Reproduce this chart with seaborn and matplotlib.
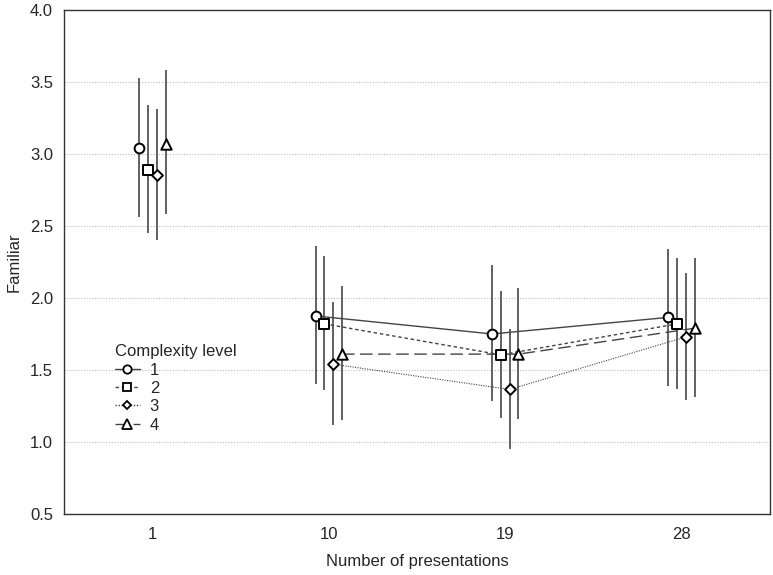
import numpy as np
import pandas as pd
import matplotlib
matplotlib.use("Agg")
import matplotlib.pyplot as plt
import seaborn as sns
from matplotlib.lines import Line2D


PRESENTATIONS = ["1", "10", "19", "28"]
LEVELS = ["1", "2", "3", "4"]

# mean familiarity per complexity level, one value per presentation count
MEANS = {
    "1": [3.04, 1.875, 1.75, 1.865],
    "2": [2.89, 1.82, 1.605, 1.82],
    "3": [2.85, 1.54, 1.365, 1.73],
    "4": [3.07, 1.61, 1.61, 1.79],
}
LOWER = {
    "1": [2.565, 1.40, 1.285, 1.39],
    "2": [2.45, 1.36, 1.165, 1.37],
    "3": [2.40, 1.12, 0.95, 1.29],
    "4": [2.58, 1.15, 1.16, 1.31],
}
UPPER = {
    "1": [3.525, 2.36, 2.23, 2.34],
    "2": [3.34, 2.29, 2.05, 2.275],
    "3": [3.31, 1.97, 1.785, 2.17],
    "4": [3.58, 2.08, 2.07, 2.275],
}

OFFSETS = {"1": -0.075, "2": -0.025, "3": 0.025, "4": 0.075}
MARKERS = {"1": "o", "2": "s", "3": "D", "4": "^"}
MSIZE = {"1": 7, "2": 7, "3": 5.5, "4": 7.5}
DASHES = {"1": "", "2": (2.5, 2.0), "3": (1.0, 1.2), "4": (9, 4)}
LWIDTH = {"1": 1.0, "2": 1.0, "3": 0.8, "4": 1.0}


def build_frame():
    rows = []
    for lvl in LEVELS:
        for i, pres in enumerate(PRESENTATIONS):
            rows.append({
                "pos": i + OFFSETS[lvl],
                "presentations": pres,
                "level": lvl,
                "mean": MEANS[lvl][i],
                "lo": LOWER[lvl][i],
                "hi": UPPER[lvl][i],
            })
    return pd.DataFrame(rows)


def main():
    sns.set_style("white")
    plt.rcParams["font.family"] = ["Liberation Sans", "DejaVu Sans"]

    df = build_frame()

    fig = plt.figure(figsize=(7.73, 5.75), dpi=100)
    ax = fig.add_axes([0.083, 0.106, 0.913, 0.877])

    # horizontal dotted grid
    for y in np.arange(1.0, 4.0, 0.5):
        ax.axhline(y, color="#bbbbbb", lw=0.8, ls=(0, (1, 1.5)), zorder=0)

    # error bars
    ax.vlines(df["pos"], df["lo"], df["hi"], color="#555555", lw=1.3, zorder=1)

    # connecting lines (only from 10 presentations on)
    later = df[df["presentations"] != "1"]
    for lvl in LEVELS:
        sub = later[later["level"] == lvl]
        sns.lineplot(data=sub, x="pos", y="mean", ax=ax, color="#444444",
                     lw=LWIDTH[lvl], dashes=False, estimator=None, sort=True,
                     legend=False, zorder=2)
        line = ax.lines[-1]
        if DASHES[lvl]:
            line.set_dashes(DASHES[lvl])

    # open markers
    for lvl in LEVELS:
        sub = df[df["level"] == lvl]
        sns.scatterplot(data=sub, x="pos", y="mean", ax=ax, marker=MARKERS[lvl],
                        s=MSIZE[lvl] ** 2, facecolor="white", edgecolor="black",
                        linewidth=1.4, legend=False, zorder=3)

    ax.set_xlim(-0.5, 3.5)
    ax.set_ylim(0.5, 4.0)
    ax.set_xticks(range(len(PRESENTATIONS)))
    ax.set_xticklabels(PRESENTATIONS)
    ax.set_yticks(np.arange(0.5, 4.01, 0.5))
    ax.set_yticklabels([f"{v:.1f}" for v in np.arange(0.5, 4.01, 0.5)])
    ax.tick_params(axis="both", direction="in", length=4, labelsize=12, color="#333333")
    ax.tick_params(axis="x", pad=9)
    ax.tick_params(axis="y", length=0, pad=8)
    ax.set_xlabel("Number of presentations", fontsize=12, labelpad=9)
    ax.set_ylabel("Familiar", fontsize=12, labelpad=6)

    for spine in ax.spines.values():
        spine.set_color("#333333")
        spine.set_linewidth(1.0)

    handles = []
    for lvl in LEVELS:
        h = Line2D([0], [0], color="#444444", lw=1.0, marker=MARKERS[lvl],
                   markersize=MSIZE[lvl] - 1, markerfacecolor="white",
                   markeredgecolor="black", markeredgewidth=1.3)
        if DASHES[lvl]:
            h.set_dashes(DASHES[lvl])
        handles.append(h)
    leg = ax.legend(handles, LEVELS, title="Complexity level", loc="upper left",
                    bbox_to_anchor=(0.055, 0.36), frameon=False, fontsize=12,
                    title_fontsize=12, handlelength=1.5, handletextpad=0.6,
                    labelspacing=0.2, borderpad=0.2)
    leg._legend_box.align = "left"

    fig.savefig("out.png", dpi=100)
    plt.close(fig)


if __name__ == "__main__":
    main()
